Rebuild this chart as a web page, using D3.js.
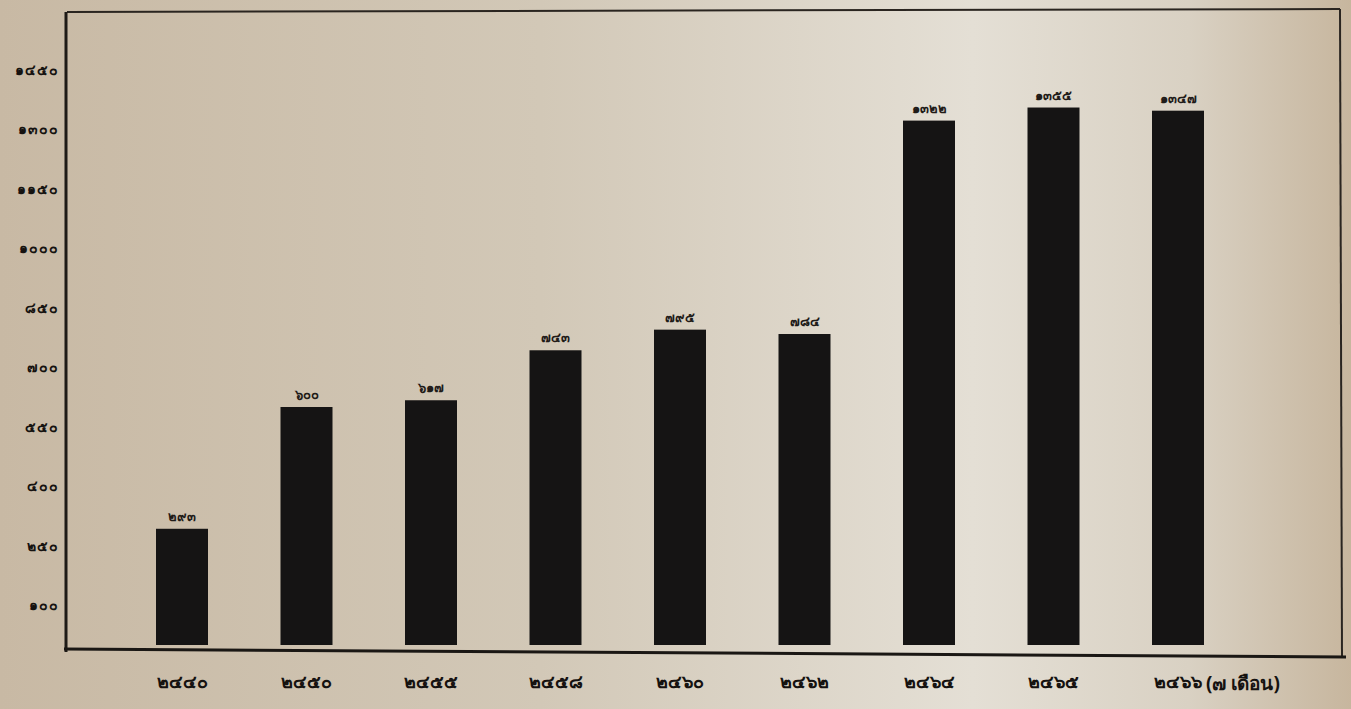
<!DOCTYPE html>
<html>
<head>
<meta charset="utf-8">
<script src="https://cdn.jsdelivr.net/npm/d3@7"></script>
<style>
  body { margin: 0; background: #c9baa4; }
  svg { display: block; }
</style>
</head>
<body>
<svg></svg>
<script>
// data (Thai numerals)
var years = ['๒๔๔๐', '๒๔๕๐', '๒๔๕๕', '๒๔๕๘', '๒๔๖๐', '๒๔๖๒', '๒๔๖๔', '๒๔๖๕', '๒๔๖๖'];
var values = [293, 600, 617, 743, 795, 784, 1322, 1355, 1347];
var yTicks = [100, 250, 400, 550, 700, 850, 1000, 1150, 1300, 1450];
var lastNote = '(๗ เดือน)';

var thaiDigits = '๐๑๒๓๔๕๖๗๘๙';
function thai(n) {
    return String(n).replace(/[0-9]/g, function(c) { return thaiDigits[+c]; });
}

var svgWidth = 1351;
var svgHeight = 709;
var barWidth = 52;

var svg = d3.select('svg')
    .attr('width', svgWidth)
    .attr('height', svgHeight);

// paper background
var defs = svg.append('defs');
var grad = defs.append('linearGradient')
    .attr('id', 'paper')
    .attr('x1', '0').attr('x2', '1').attr('y1', '0').attr('y2', '0');
grad.append('stop').attr('offset', '0%').attr('stop-color', '#c8b9a4');
grad.append('stop').attr('offset', '40%').attr('stop-color', '#d2c8b7');
grad.append('stop').attr('offset', '72%').attr('stop-color', '#e4dfd5');
grad.append('stop').attr('offset', '88%').attr('stop-color', '#d9d1c3');
grad.append('stop').attr('offset', '100%').attr('stop-color', '#c7b69e');

svg.append('rect')
    .attr('width', svgWidth)
    .attr('height', svgHeight)
    .attr('fill', 'url(#paper)');

var x = d3.scalePoint()
    .domain(years)
    .range([182, 1178]);

var y = d3.scaleLinear()
    .domain([0, 1500])
    .range([645, 50]);

// frame
svg.append('line')
    .attr('x1', 67).attr('y1', 12).attr('x2', 1340).attr('y2', 9)
    .attr('stroke', '#2a2520').attr('stroke-width', 2);
svg.append('line')
    .attr('x1', 1340).attr('y1', 9).attr('x2', 1342).attr('y2', 657)
    .attr('stroke', '#2a2520').attr('stroke-width', 2);

// bars
svg.selectAll('rect.bar')
    .data(values)
    .enter()
    .append('rect')
    .attr('class', 'bar')
    .attr('x', function(d, i) { return x(years[i]) - barWidth / 2; })
    .attr('y', function(d) { return y(d); })
    .attr('width', barWidth)
    .attr('height', function(d) { return y(0) - y(d); })
    .attr('fill', '#151414');

// value labels
svg.selectAll('text.val')
    .data(values)
    .enter()
    .append('text')
    .attr('class', 'val')
    .attr('x', function(d, i) { return x(years[i]); })
    .attr('y', function(d) { return y(d) - 8; })
    .attr('text-anchor', 'middle')
    .attr('font-family', 'Noto Sans, sans-serif')
    .attr('font-size', 13)
    .attr('font-weight', 'bold')
    .attr('fill', '#1f1b18')
    .text(function(d) { return thai(d); });

// y axis
var yAxis = svg.append('g')
    .attr('transform', 'translate(66,0)')
    .call(d3.axisLeft(y).tickValues(yTicks).tickSize(0).tickPadding(7)
        .tickFormat(function(d) { return thai(d); }));
yAxis.select('.domain')
    .attr('d', 'M0,12V652')
    .attr('stroke', '#1e1a16')
    .attr('stroke-width', 3);
yAxis.selectAll('text')
    .attr('font-family', 'Noto Sans, sans-serif')
    .attr('font-size', 14)
    .attr('font-weight', 'bold')
    .attr('letter-spacing', 1)
    .attr('fill', '#151210');

// x axis line (slightly skewed on the scan)
svg.append('line')
    .attr('x1', 64).attr('y1', 649).attr('x2', 1346).attr('y2', 657)
    .attr('stroke', '#1a1714').attr('stroke-width', 3);

// x labels
svg.selectAll('text.year')
    .data(years)
    .enter()
    .append('text')
    .attr('class', 'year')
    .attr('x', function(d) { return x(d); })
    .attr('y', 688)
    .attr('text-anchor', 'middle')
    .attr('font-family', 'Noto Sans, sans-serif')
    .attr('font-size', 18)
    .attr('font-weight', 'bold')
    .attr('fill', '#151210')
    .text(function(d) { return d; });

svg.append('text')
    .attr('x', x(years[years.length - 1]) + 28)
    .attr('y', 690)
    .attr('font-family', 'Noto Sans, sans-serif')
    .attr('font-size', 19)
    .attr('font-weight', 'bold')
    .attr('fill', '#151210')
    .text(lastNote);
</script>
</body>
</html>
